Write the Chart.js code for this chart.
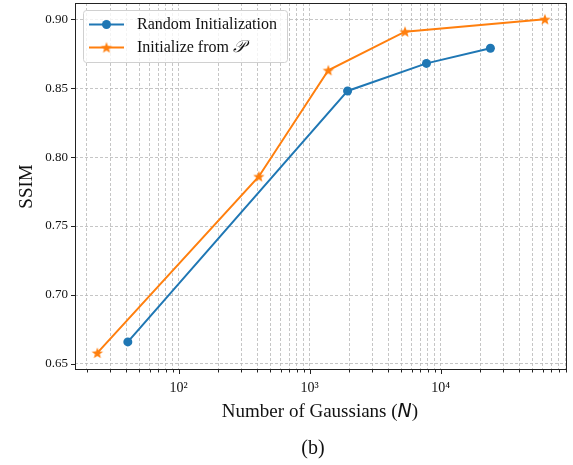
<!DOCTYPE html>
<html>
<head>
<meta charset="utf-8">
<script src="https://cdn.jsdelivr.net/npm/chart.js@4.4.1/dist/chart.umd.min.js"></script>
<style>
  body { margin: 0; background: #fff; }
  #wrap { width: 573px; height: 465px; }
</style>
</head>
<body>
<div id="wrap"><canvas id="ssimChart" width="573" height="465"></canvas></div>
<script>
// data
const randomN = [41, 1950, 7800, 24000];
const randomSSIM = [0.666, 0.848, 0.868, 0.879];
const priorN = [24, 410, 1390, 5350, 62500];
const priorSSIM = [0.658, 0.786, 0.863, 0.891, 0.900];
const yTicks = [0.65, 0.70, 0.75, 0.80, 0.85, 0.90];
const xMajor = [100, 1000, 10000];
const xSuper = { 100: '10²', 1000: '10³', 10000: '10⁴' };

const BLUE = '#1f77b4';
const ORANGE = '#ff7f0e';
const GRID = '#b8b8b8';
const SERIF = '"Liberation Serif", "DejaVu Serif", serif';

// filled 5 point star like matplotlib '*'
function makeStar(r, color) {
    const c = document.createElement('canvas');
    const s = Math.ceil(r * 2 + 2);
    c.width = s; c.height = s;
    const g = c.getContext('2d');
    g.fillStyle = color;
    g.beginPath();
    for (let i = 0; i < 10; i++) {
        const rad = i % 2 === 0 ? r : r * 0.42;
        const a = -Math.PI / 2 + i * Math.PI / 5;
        const px = s / 2 + rad * Math.cos(a);
        const py = s / 2 + rad * Math.sin(a) + 0.5;
        if (i === 0) g.moveTo(px, py); else g.lineTo(px, py);
    }
    g.closePath();
    g.fill();
    return c;
}
const star = makeStar(6, ORANGE);

function toPoints(xs, ys) {
    return xs.map((x, i) => ({ x: x, y: ys[i] }));
}

// all log minor positions in range
function logTicks(min, max) {
    const out = [];
    for (let e = Math.floor(Math.log10(min)); e <= Math.ceil(Math.log10(max)); e++) {
        for (let m = 1; m < 10; m++) {
            const v = m * Math.pow(10, e);
            if (v >= min && v <= max) out.push({ value: v, major: m === 1 });
        }
    }
    return out;
}

const decorPlugin = {
    id: 'decor',
    afterDraw(chart) {
        const ctx = chart.ctx;
        const a = chart.chartArea;
        const xs = chart.scales.x;
        const ys = chart.scales.y;
        ctx.save();
        // spines
        ctx.strokeStyle = '#222';
        ctx.lineWidth = 1;
        ctx.strokeRect(a.left + 0.5, a.top + 0.5, a.right - a.left - 1, a.bottom - a.top - 1);
        // tick marks
        ctx.beginPath();
        xs.ticks.forEach(t => {
            const px = Math.round(xs.getPixelForValue(t.value)) + 0.5;
            const len = t.major ? 4 : 2.5;
            ctx.moveTo(px, a.bottom);
            ctx.lineTo(px, a.bottom + len);
        });
        ys.ticks.forEach(t => {
            const py = Math.round(ys.getPixelForValue(t.value)) + 0.5;
            ctx.moveTo(a.left, py);
            ctx.lineTo(a.left - 4, py);
        });
        ctx.stroke();

        // legend
        const lx = 83, ly = 10, lw = 204, lh = 52;
        ctx.fillStyle = 'rgba(255,255,255,0.8)';
        ctx.strokeStyle = '#d0d0d0';
        ctx.beginPath();
        ctx.roundRect(lx + 0.5, ly + 0.5, lw, lh, 3);
        ctx.fill();
        ctx.stroke();
        ctx.lineWidth = 2;
        ctx.strokeStyle = BLUE;
        ctx.beginPath(); ctx.moveTo(89, 24.5); ctx.lineTo(124, 24.5); ctx.stroke();
        ctx.fillStyle = BLUE;
        ctx.beginPath(); ctx.arc(106.5, 24.5, 4.5, 0, Math.PI * 2); ctx.fill();
        ctx.strokeStyle = ORANGE;
        ctx.beginPath(); ctx.moveTo(89, 47.5); ctx.lineTo(124, 47.5); ctx.stroke();
        ctx.drawImage(star, 106.5 - star.width / 2, 47.5 - star.height / 2);
        ctx.fillStyle = '#111';
        ctx.font = '16px ' + SERIF;
        ctx.textBaseline = 'middle';
        ctx.textAlign = 'left';
        ctx.fillText('Random Initialization', 137, 25);
        ctx.fillText('Initialize from ', 137, 48);
        const w = ctx.measureText('Initialize from ').width;
        ctx.font = 'italic 17px "DejaVu Serif", serif';
        ctx.fillText('𝒫', 137 + w, 48);

        // axis titles
        ctx.fillStyle = '#111';
        ctx.textBaseline = 'middle';
        const t1 = 'Number of Gaussians (';
        ctx.font = '19px ' + SERIF;
        const w1 = ctx.measureText(t1).width;
        ctx.font = 'italic 19px "DejaVu Sans", sans-serif';
        const w2 = ctx.measureText('N').width;
        ctx.font = '19px ' + SERIF;
        const w3 = ctx.measureText(')').width;
        const sx = 320 - (w1 + w2 + w3) / 2;
        ctx.textAlign = 'left';
        ctx.fillText(t1, sx, 412);
        ctx.font = 'italic 19px "DejaVu Sans", sans-serif';
        ctx.fillText('N', sx + w1, 412);
        ctx.font = '19px ' + SERIF;
        ctx.fillText(')', sx + w1 + w2, 412);
        ctx.textAlign = 'center';
        ctx.font = '20px ' + SERIF;
        ctx.fillText('(b)', 313, 449);
        ctx.translate(27, (a.top + a.bottom) / 2);
        ctx.rotate(-Math.PI / 2);
        ctx.font = '19px ' + SERIF;
        ctx.fillText('SSIM', 0, 0);
        ctx.restore();
    }
};

const chart = new Chart(document.getElementById('ssimChart'), {
    type: 'line',
    data: {
        datasets: [{
            label: 'Random Initialization',
            data: toPoints(randomN, randomSSIM),
            borderColor: BLUE,
            backgroundColor: BLUE,
            borderWidth: 2,
            pointStyle: 'circle',
            pointRadius: 4.5,
            pointBorderWidth: 0,
            tension: 0
        }, {
            label: 'Initialize from P',
            data: toPoints(priorN, priorSSIM),
            borderColor: ORANGE,
            backgroundColor: ORANGE,
            borderWidth: 2,
            pointStyle: star,
            pointRadius: 6,
            tension: 0
        }]
    },
    plugins: [decorPlugin],
    options: {
        responsive: false,
        animation: false,
        layout: { autoPadding: false, padding: { top: 3, right: 6, left: 0, bottom: 0 } },
        plugins: { legend: { display: false }, tooltip: { enabled: false } },
        scales: {
            x: {
                type: 'logarithmic',
                min: 16.2,
                max: 92200,
                afterBuildTicks(scale) { scale.ticks = logTicks(scale.min, scale.max); },
                afterFit(scale) {
                    scale.height = 95;
                    scale.paddingLeft = 0; scale.paddingRight = 0;
                },
                ticks: {
                    autoSkip: false,
                    maxRotation: 0,
                    padding: 10,
                    color: '#111',
                    font: { family: SERIF, size: 14 },
                    callback(v) { return xMajor.includes(v) ? xSuper[v] : ''; }
                },
                grid: { color: GRID, lineWidth: 0.8, drawTicks: false },
                border: { display: false, dash: [3, 2] }
            },
            y: {
                min: 0.6456,
                max: 0.9118,
                afterBuildTicks(scale) { scale.ticks = yTicks.map(v => ({ value: v })); },
                afterFit(scale) {
                    scale.width = 75;
                    scale.paddingTop = 0; scale.paddingBottom = 0;
                },
                ticks: {
                    padding: 7,
                    color: '#111',
                    font: { family: SERIF, size: 13 },
                    callback(v) { return v.toFixed(2); }
                },
                grid: { color: GRID, lineWidth: 0.8, drawTicks: false },
                border: { display: false, dash: [3, 2] }
            }
        }
    }
});
</script>
</body>
</html>
